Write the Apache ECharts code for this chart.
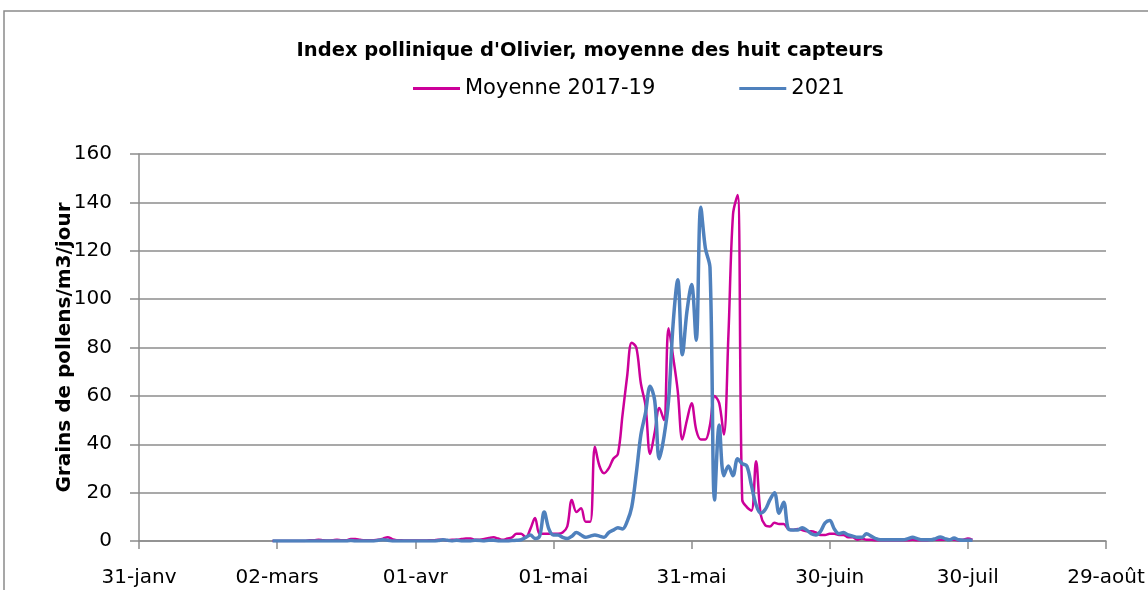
<!DOCTYPE html>
<html>
<head>
<meta charset="utf-8">
<script src="https://cdn.jsdelivr.net/npm/echarts@6/dist/echarts.min.js"></script>
<style>
    html, body { margin: 0; padding: 0; background: #fff; }
    #chart { width: 1148px; height: 590px; }
</style>
</head>
<body>
<div id="chart"></div>
<script>
// jours comptés depuis le 31-janv
const startDay = 29
const tickLabels = ['31-janv', '02-mars', '01-avr', '01-mai', '31-mai', '30-juin', '30-juil', '29-août']
const moyenne = [
    0, 0, 0, 0, 0, 0, 0, 0, 0.3, 0.3,
    0.5, 0.3, 0.2, 0.3, 0.5, 0.3, 0.3, 0.8, 0.8, 0.5,
    0.3, 0.3, 0.3, 0.5, 1, 1.6, 0.8, 0.3, 0.3, 0.2,
    0.2, 0.2, 0.2, 0.2, 0.3, 0.3, 0.5, 0.5, 0.3, 0.5,
    0.5, 0.8, 1, 1, 0.5, 0.5, 0.8, 1.2, 1.5, 1,
    0.5, 1, 1.5, 3, 3, 1.5, 5, 9.5, 3, 3,
    3, 3, 3, 3.5, 6, 17, 12, 13.5, 8, 8,
    39, 31, 28, 30, 34, 36, 52, 68, 82, 80,
    65, 56, 36, 45, 55, 50, 88, 76, 62, 42,
    50, 57, 46, 42, 42, 48, 60, 57, 44, 85,
    135, 143, 17, 14, 12.5, 33, 11, 6.5, 6, 7.5,
    7, 7, 5, 4.5, 5, 4.5, 4, 4, 3.5, 2.5,
    2.5, 3, 3, 2.5, 2.5, 1.5, 1.5, 0.5, 1, 0.5,
    0.5, 0.3, 0.3, 0.3, 0.3, 0.3, 0.3, 0.3, 0.3, 0.5,
    0.3, 0.3, 0.3, 0.5, 0.5, 0.5, 0.5, 0.5, 0.5, 0.3,
    0.5, 1, 0.5
]
const annee2021 = [
    0, 0, 0, 0, 0, 0, 0, 0, 0, 0,
    0, 0, 0, 0, 0, 0, 0, 0.2, 0, 0,
    0, 0, 0, 0.3, 0.5, 0.3, 0, 0, 0, 0,
    0, 0, 0, 0, 0, 0, 0.2, 0.5, 0.3, 0,
    0.3, 0, 0, 0, 0.3, 0.2, 0, 0.3, 0.3, 0,
    0, 0, 0.2, 0.3, 0.5, 1.5, 2.5, 1, 2, 12,
    5, 2.5, 2.5, 1.5, 1, 2, 3.5, 2.5, 1.5, 2,
    2.5, 2, 1.5, 3.5, 4.5, 5.5, 5, 8, 14, 28,
    44, 53, 64, 58, 34, 43, 58, 90, 108, 77,
    95, 106, 83, 138, 121, 113, 17, 48, 27, 31,
    27, 34, 32, 31, 23, 15, 11.5, 13, 17, 20,
    11.5, 16, 5, 4.5, 4.5, 5.5, 4.5, 3, 2.5, 4,
    7.5, 8.5, 5, 3, 3.5, 2.5, 2, 1.5, 1.5, 3,
    2, 1, 0.5, 0.5, 0.5, 0.5, 0.5, 0.5, 1, 1.5,
    1, 0.5, 0.5, 0.5, 1, 1.7, 1, 0.5, 1.2, 0.5,
    0.3, 0.3, 0.3
]

const chart = echarts.init(document.getElementById('chart'))
const font = 'DejaVu Sans'
const gris = '#8c8c8c'

let option = {
    animation: false,
    backgroundColor: '#fff',
    graphic: [{
        type: 'rect',
        shape: { x: 4, y: 11, width: 1200, height: 700 },
        style: { fill: 'none', stroke: '#8a8a8a', lineWidth: 1.5 },
        silent: true
    }],
    title: {
        text: "Index pollinique d'Olivier, moyenne des huit capteurs",
        left: 585,
        textAlign: 'center',
        top: 36,
        textStyle: { fontFamily: font, fontSize: 19.5, fontWeight: 'bold', color: '#000' }
    },
    legend: {
        left: 408,
        top: 73,
        icon: 'rect',
        itemWidth: 47,
        itemHeight: 3,
        itemGap: 84,
        textStyle: { fontFamily: font, fontSize: 21, color: '#000' },
        data: ['Moyenne 2017-19', '2021']
    },
    grid: { left: 139, right: 42, top: 154, bottom: 49, outerBoundsMode: 'none' },
    xAxis: {
        type: 'value',
        min: 0,
        max: 210,
        interval: 30,
        axisLine: { show: true, lineStyle: { color: gris, width: 1.5 } },
        axisTick: { show: true, length: 8, lineStyle: { color: gris, width: 1.5 } },
        splitLine: { show: false },
        axisLabel: {
            margin: 27,
            fontFamily: font,
            fontSize: 20,
            color: '#000',
            formatter: v => tickLabels[Math.round(v / 30)]
        }
    },
    yAxis: {
        type: 'value',
        min: 0,
        max: 160,
        interval: 20,
        name: 'Grains de pollens/m3/jour',
        nameLocation: 'middle',
        nameGap: 64,
        nameMoveOverlap: false,
        nameTextStyle: { fontFamily: font, fontSize: 20, fontWeight: 'bold', color: '#000' },
        axisLine: { show: true, lineStyle: { color: gris, width: 1.5 } },
        axisTick: { show: true, length: 9, lineStyle: { color: gris, width: 1.5 } },
        splitLine: { show: true, lineStyle: { color: gris, width: 1.5 } },
        axisLabel: { margin: 27, fontFamily: font, fontSize: 20, color: '#000' }
    },
    series: [
        {
            name: 'Moyenne 2017-19',
            type: 'line',
            symbol: 'none',
            smooth: 0.35,
            color: '#cc0099',
            lineStyle: { color: '#cc0099', width: 2.5 },
            data: moyenne.map((v, i) => [startDay + i, v])
        },
        {
            name: '2021',
            type: 'line',
            symbol: 'none',
            smooth: 0.35,
            color: '#4f81bd',
            lineStyle: { color: '#4f81bd', width: 3.5 },
            data: annee2021.map((v, i) => [startDay + i, v])
        }
    ]
}
chart.setOption(option)
</script>
</body>
</html>
